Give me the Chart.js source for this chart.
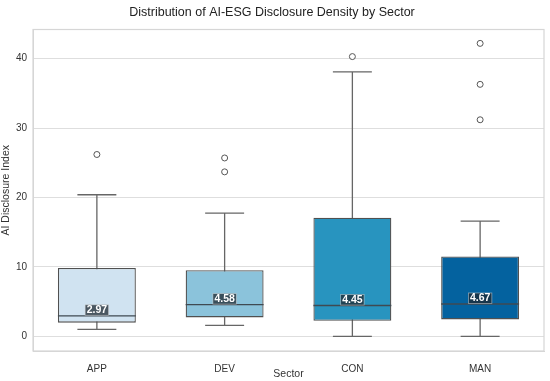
<!DOCTYPE html>
<html>
<head>
<meta charset="utf-8">
<script src="https://cdn.jsdelivr.net/npm/chart.js@4/dist/chart.umd.min.js"></script>
<style>
html,body{margin:0;padding:0;background:#fff;}
#wrap{width:550px;height:381px;}
</style>
</head>
<body>
<div id="wrap"><canvas id="c" width="550" height="381"></canvas></div>
<script>
const categories = ['APP', 'DEV', 'CON', 'MAN'];
const q1Values = [1.98, 2.74, 2.26, 2.45];
const q3Values = [9.86, 9.52, 17.1, 11.5];
const medians = [2.97, 4.58, 4.45, 4.67];
const whiskerLow = [1.0, 1.59, 0.0, 0.0];
const whiskerHigh = [20.4, 17.75, 38.1, 16.6];
const outliers = [[26.2], [25.7, 23.7], [40.3], [42.2, 36.3, 31.2]];
const boxColors = ['#d0e3f1', '#8bc3db', '#2894bf', '#04629f'];
const yTicks = [0, 10, 20, 30, 40];

const FONT = "'Liberation Sans', Arial, sans-serif";
const LINE = '#505050';

const outlierPoints = [];
outliers.forEach((arr, i) => arr.forEach(v => outlierPoints.push({x: categories[i], y: v})));

const boxPlugin = {
  id: 'boxParts',
  beforeDatasetsDraw(chart) {
    const ctx = chart.ctx, xs = chart.scales.x, ys = chart.scales.y;
    const meta = chart.getDatasetMeta(0);
    ctx.save();
    ctx.strokeStyle = '#666666';
    ctx.lineWidth = 1.3;
    categories.forEach((c, i) => {
      const x = xs.getPixelForValue(i);
      const bw = meta.data[i].width;
      const cap = bw / 4;
      const yl = ys.getPixelForValue(whiskerLow[i]);
      const yh = ys.getPixelForValue(whiskerHigh[i]);
      ctx.beginPath();
      ctx.moveTo(x, yl); ctx.lineTo(x, yh);
      ctx.moveTo(x - cap, yl); ctx.lineTo(x + cap, yl);
      ctx.moveTo(x - cap, yh); ctx.lineTo(x + cap, yh);
      ctx.stroke();
    });
    ctx.restore();
  },
  afterDatasetsDraw(chart) {
    const ctx = chart.ctx, xs = chart.scales.x, ys = chart.scales.y;
    const meta = chart.getDatasetMeta(0);
    ctx.save();
    categories.forEach((c, i) => {
      const x = xs.getPixelForValue(i);
      const bw = meta.data[i].width;
      const ym = ys.getPixelForValue(medians[i]);
      ctx.strokeStyle = '#3f4a52';
      ctx.lineWidth = 1.3;
      ctx.beginPath();
      ctx.moveTo(x - bw / 2, ym); ctx.lineTo(x + bw / 2, ym);
      ctx.stroke();
      const txt = medians[i].toFixed(2);
      ctx.font = "bold 10.5px " + FONT;
      const tw = ctx.measureText(txt).width;
      const h = 10.5, pad = 1.5;
      ctx.fillStyle = 'rgba(30,40,48,0.75)';
      ctx.fillRect(x - tw / 2 - pad, ym - h - 0.5, tw + 2 * pad, h);
      ctx.strokeStyle = 'rgba(220,220,220,0.6)';
      ctx.lineWidth = 0.8;
      ctx.strokeRect(x - tw / 2 - pad, ym - h - 0.5, tw + 2 * pad, h);
      ctx.fillStyle = '#ffffff';
      ctx.textAlign = 'center';
      ctx.textBaseline = 'middle';
      ctx.fillText(txt, x, ym - h / 2 - 0.2);
    });
    ctx.restore();
  },
  afterDraw(chart) {
    const ctx = chart.ctx, a = chart.chartArea;
    ctx.save();
    ctx.strokeStyle = '#d6d6d6';
    ctx.lineWidth = 1.2;
    ctx.strokeRect(a.left, a.top, a.right - a.left, a.bottom - a.top);
    ctx.restore();
  }
};

new Chart(document.getElementById('c'), {
  data: {
    labels: categories,
    datasets: [
      {
        type: 'bar',
        data: categories.map((c, i) => [q1Values[i], q3Values[i]]),
        backgroundColor: boxColors,
        borderColor: LINE,
        borderWidth: 1.3,
        borderSkipped: false,
        barPercentage: 0.61,
        categoryPercentage: 1.0,
        order: 2
      },
      {
        type: 'scatter',
        data: outlierPoints,
        pointRadius: 3,
        pointBackgroundColor: '#ffffff',
        pointBorderColor: '#555555',
        pointBorderWidth: 1,
        order: 1
      }
    ]
  },
  options: {
    responsive: false,
    animation: false,
    layout: { padding: { right: 6, left: 0, bottom: 0 } },
    plugins: {
      legend: { display: false },
      tooltip: { enabled: false },
      title: {
        display: true,
        text: 'Distribution of AI-ESG Disclosure Density by Sector',
        color: '#222222',
        font: { family: FONT, size: 12.5, weight: 'normal' },
        padding: { top: 5, bottom: 9.5 }
      }
    },
    scales: {
      x: {
        type: 'category',
        offset: true,
        grid: { display: false },
        border: { display: true, color: '#d6d6d6' },
        ticks: { color: '#333333', font: { family: FONT, size: 10 }, padding: 4 },
        title: { display: true, text: 'Sector', color: '#333333', font: { family: FONT, size: 10.5 }, padding: { top: 0, bottom: 1 } },
        afterFit(s) { s.height = 30; }
      },
      y: {
        type: 'linear',
        min: -2.1,
        max: 44.2,
        afterBuildTicks(s) { s.ticks = yTicks.map(v => ({ value: v })); },
        grid: { color: '#dedede', lineWidth: 1.1, drawTicks: false },
        border: { display: true, color: '#d6d6d6' },
        ticks: { color: '#333333', font: { family: FONT, size: 10 }, padding: 6 },
        title: { display: true, text: 'AI Disclosure Index', color: '#333333', font: { family: FONT, size: 10.5 }, padding: { top: 0, bottom: 2 } },
        afterFit(s) { s.width = 33; }
      }
    }
  },
  plugins: [boxPlugin]
});
</script>
</body>
</html>
